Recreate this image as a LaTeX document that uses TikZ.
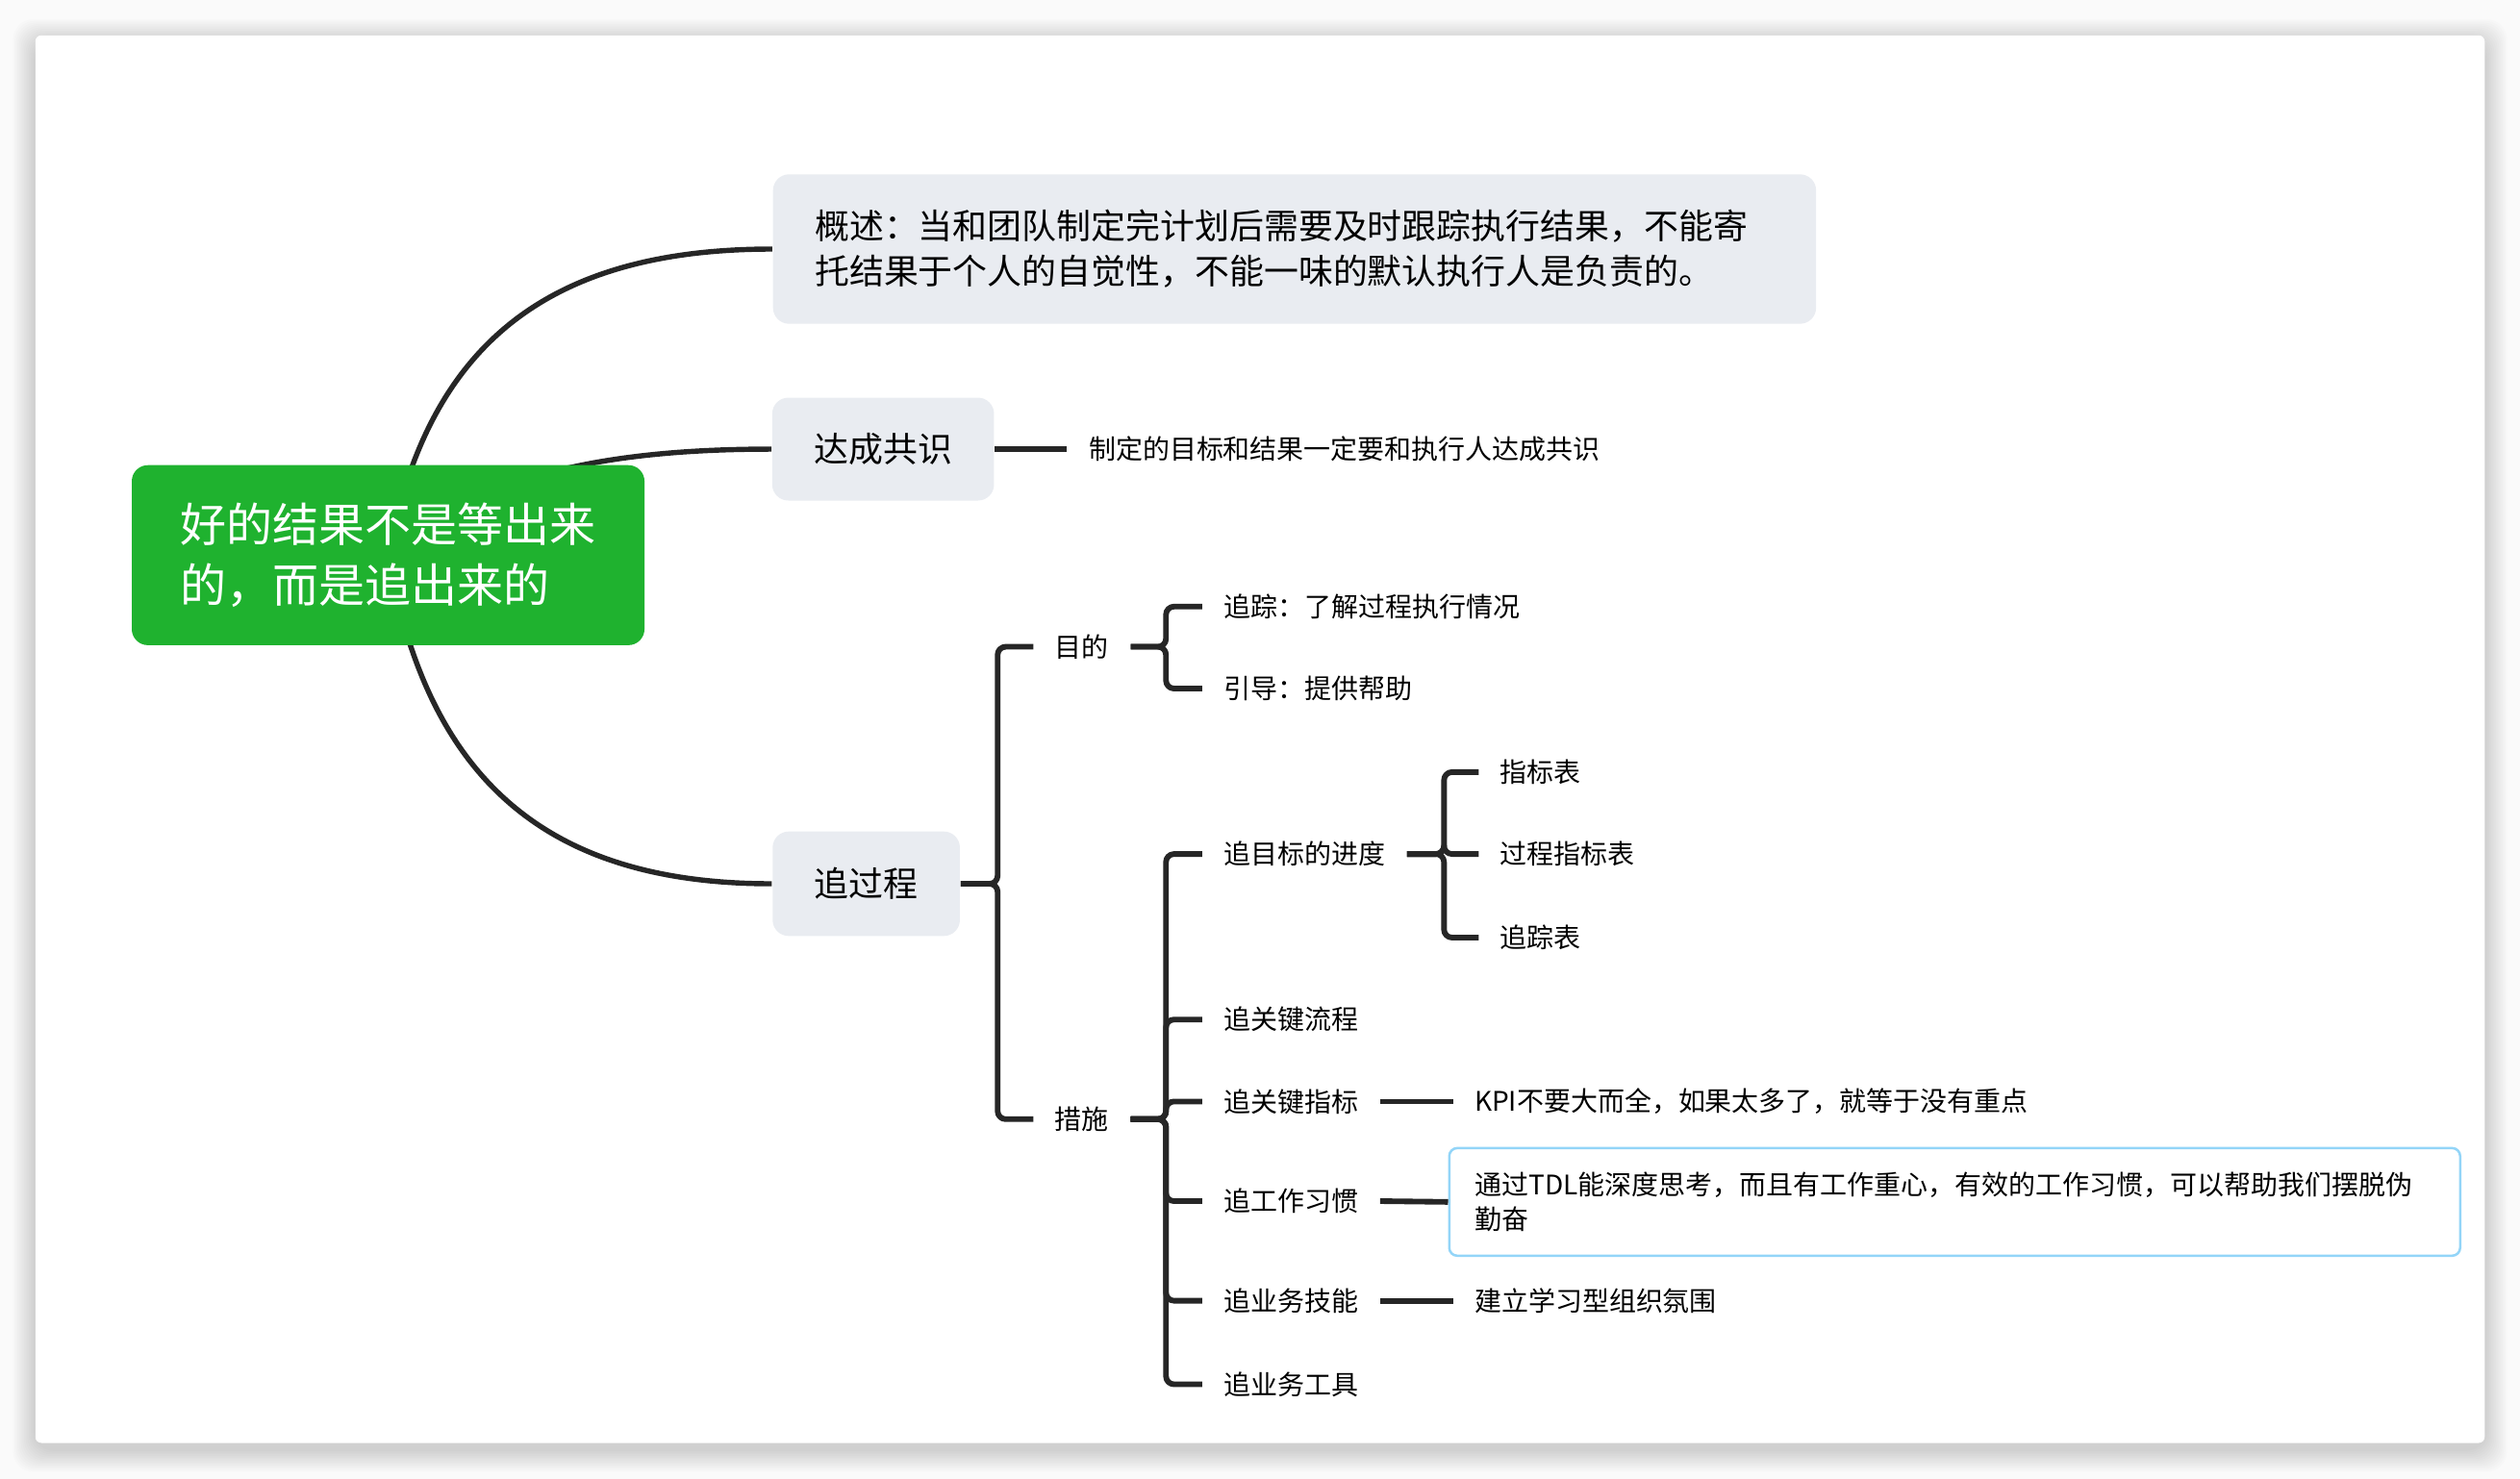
\documentclass[tikz,border=0pt]{standalone}
\usepackage{fontspec}
\setmainfont{Noto Sans CJK SC}
\usetikzlibrary{backgrounds}
\definecolor{rootgreen}{HTML}{1FB22F}
\definecolor{topicgray}{HTML}{E9ECF1}
\definecolor{linedark}{HTML}{262626}
\definecolor{noteblue}{HTML}{93D5F8}
\begin{document}
\begin{tikzpicture}[x=0.4pt, y=-0.4pt, line join=round,
	conn/.style={draw=linedark, line width=1.3pt},
	brk/.style={draw=linedark, line width=1.4pt, rounded corners=2pt},
	topic/.style={fill=topicgray, rounded corners=4pt, inner xsep=10.4pt, inner ysep=0pt, font=\fontsize{8.6}{11.2}\selectfont},
	leaf/.style={anchor=west, inner xsep=5.2pt, inner ysep=1pt, font=\fontsize{6.7}{8.8}\selectfont}]
	\useasboundingbox (0,0) rectangle (1568,920.4);
	% Nền và bóng
	\begin{scope}[on background layer]
		\fill[gray!4] (0,0) rectangle (1568,920.4);
		\foreach \i in {1,...,14}
		\fill[black, opacity=0.012, rounded corners=5pt] (22-\i,22-\i+4) rectangle (1546+\i,898+\i+4);
		\fill[white, rounded corners=1.5pt] (22,22) rectangle (1546,898);
	\end{scope}
	% Chủ đề chính
	\node[fill=rootgreen, text=white, rounded corners=4pt, minimum width=127.6pt, minimum height=44.8pt, inner xsep=12pt, text width=103.6pt, align=left, font=\fontsize{11.5}{15.2}\selectfont] (root) at (241.5,345.5) {好的结果不是等出来\\的，而是追出来的};
	\node[topic, minimum width=259.6pt, minimum height=37.2pt, text width=238.8pt, align=left] (ovw) at (805.5,155) {概述：当和团队制定完计划后需要及时跟踪执行结果，不能寄\\托结果于个人的自觉性，不能一味的默认执行人是负责的。};
	\node[topic, minimum width=54.8pt, minimum height=25.6pt] (gongshi) at (549.5,279.5) {达成共识};
	\node[topic, minimum width=46.4pt, minimum height=26pt] (guocheng) at (539,550) {追过程};
	% Nhánh con
	\node[leaf] (gongshiN) at (664,279.5) {制定的目标和结果一定要和执行人达成共识};
	\node[leaf] (mudi) at (643,402.5) {目的};
	\node[leaf] (cuoshi) at (643,696.5) {措施};
	\node[leaf] (genzong) at (748,377.5) {追踪：了解过程执行情况};
	\node[leaf] (yindao) at (748,428.5) {引导：提供帮助};
	\node[leaf] (jindu) at (748,531.5) {追目标的进度};
	\node[leaf] (liucheng) at (748,634.5) {追关键流程};
	\node[leaf] (zhibiao) at (748,685.5) {追关键指标};
	\node[leaf] (xiguan) at (748,747.5) {追工作习惯};
	\node[leaf] (jineng) at (748,809.5) {追业务技能};
	\node[leaf] (gongju) at (748,861.5) {追业务工具};
	\node[leaf] (zbb) at (920,480.5) {指标表};
	\node[leaf] (gczbb) at (920,531.5) {过程指标表};
	\node[leaf] (gzb) at (920,583.5) {追踪表};
	\node[leaf] (kpi) at (904,685.5) {KPI不要大而全，如果太多了，就等于没有重点};
	\node[leaf, draw=noteblue, line width=0.6pt, rounded corners=2pt, inner xsep=6.4pt, minimum width=251.6pt, minimum height=26.8pt, text width=238.8pt, align=left] (tdl) at (901,748) {通过TDL能深度思考，而且有工作重心，有效的工作习惯，可以帮助我们摆脱伪\\勤奋};
	\node[leaf] (xuexi) at (904,809.5) {建立学习型组织氛围};
	% Đường cong từ gốc
	\begin{scope}[on background layer]
		\draw[conn] (root.center) .. controls +(24,-127) and +(-144,0) .. (ovw.west);
		\draw[conn] (root.center) .. controls +(50,-44) and +(-119,0) .. (gongshi.west);
		\draw[conn] (root.center) .. controls +(24,136) and +(-144,0) .. (guocheng.west);
	\end{scope}
	% Các nhánh
	\draw[brk] (gongshi.east) -- (gongshiN.west);
	\foreach \c in {mudi,cuoshi}
	\draw[brk] (guocheng.east) -- ++(23,0) |- (\c.west);
	\foreach \c in {genzong,yindao}
	\draw[brk] (mudi.east) -- ++(22,0) |- (\c.west);
	\foreach \c in {jindu,liucheng,zhibiao,xiguan,jineng,gongju}
	\draw[brk] (cuoshi.east) -- ++(22,0) |- (\c.west);
	\foreach \c in {zbb,gczbb,gzb}
	\draw[brk] (jindu.east) -- ++(23,0) |- (\c.west);
	\draw[brk] (zhibiao.east) -- (kpi.west);
	\draw[brk] (xiguan.east) -- (tdl.west);
	\draw[brk] (jineng.east) -- (xuexi.west);
\end{tikzpicture}
\end{document}
